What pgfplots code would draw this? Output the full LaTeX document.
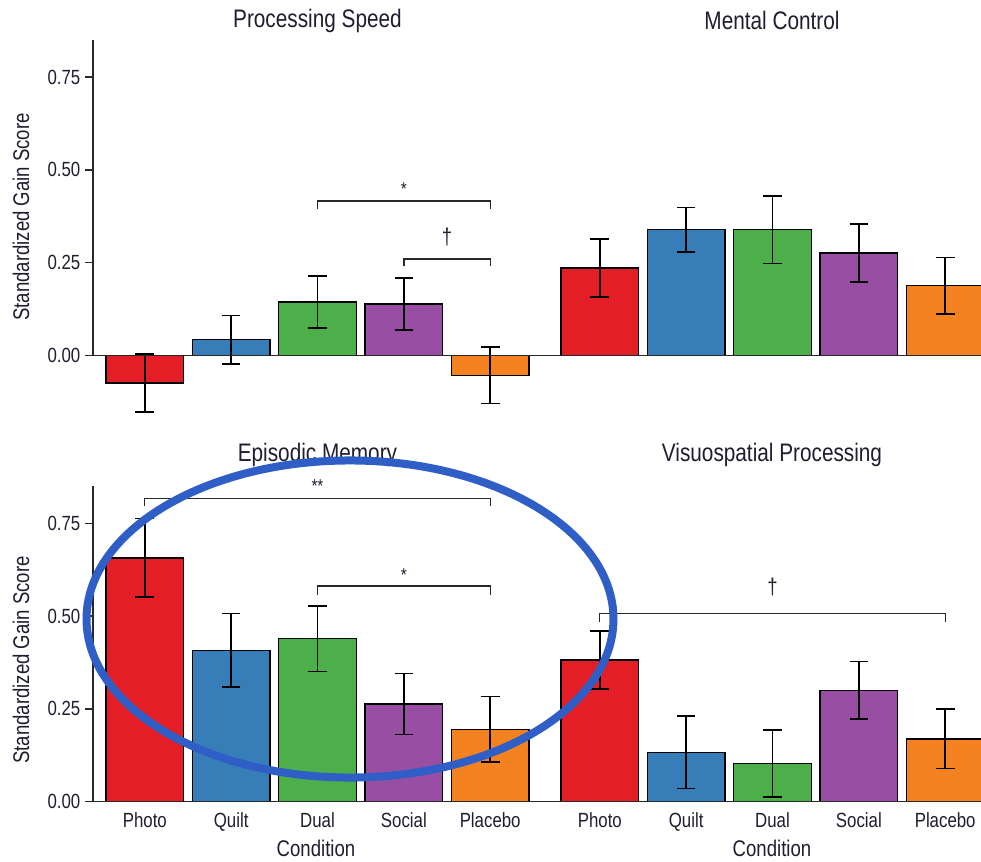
\documentclass[border=0pt]{standalone}
\usepackage{pgfplots}
\pgfplotsset{compat=1.18}
\usepackage{fontspec}
\setmainfont{Liberation Sans}[FakeStretch=0.82]
\definecolor{cred}{RGB}{228,30,38}
\definecolor{cblue}{RGB}{55,126,184}
\definecolor{cgreen}{RGB}{77,175,74}
\definecolor{cpurple}{RGB}{152,78,163}
\definecolor{corange}{RGB}{245,130,32}
\definecolor{txt}{RGB}{30,30,48}
\definecolor{axc}{RGB}{40,40,40}
\definecolor{ell}{RGB}{46,94,198}
\newcommand{\tickfont}{\fontsize{15.4}{18}\selectfont}
\newcommand{\titlefont}{\fontsize{19}{22}\selectfont}
\newcommand{\labfont}{\fontsize{17}{20}\selectfont}
\tikzset{
  axl/.style={draw=axc, line width=1.1pt},
  brk/.style={draw=axc, line width=1pt},
}
\pgfplotsset{
  panel/.style={
    scale only axis, width=336.75pt, xmin=-0.6, xmax=4.6, ymax=0.85,
    axis lines*=left, axis line style={draw=none},
    clip=false, xtick={0,1,2,3,4}, xtick style={draw=none},
    ytick style={axc, line width=1.1pt}, tick align=outside, major tick length=6pt,
    yticklabel style={font=\tickfont, text=txt},
    xticklabel style={font=\tickfont, text=txt, yshift=1.5pt},
    /pgf/number format/assume math mode=true,
    anchor=south west,
  },
  toppanel/.style={ymin=-0.17, height=283.8pt, xticklabels={}},
  botpanel/.style={ymin=0, height=236.5pt, xticklabels={Photo,Quilt,Dual,Social,Placebo}},
  lefty/.style={ytick={0,0.25,0.5,0.75}, yticklabels={0.00,0.25,0.50,0.75}},
  righty/.style={ytick=\empty},
  br/.style={ybar, bar width=0.9, bar shift=0pt, draw=black, line width=1.1pt,
    error bars/y dir=both, error bars/y explicit,
    error bars/error bar style={black, line width=1.2pt},
    error bars/error mark options={black, line width=1.2pt, mark size=7pt, rotate=90}},
}
\begin{document}
\begin{tikzpicture}
\useasboundingbox (0,0) rectangle (735.75pt,645.75pt);
\clip (0,0) rectangle (735.75pt,645.75pt);

% ---------- Processing Speed ----------
\begin{axis}[panel, toppanel, lefty, at={(69.75pt,331.95pt)}]
\addplot[br, fill=cred]    coordinates {(0,-0.074) +- (0,0.078)};
\addplot[br, fill=cblue]   coordinates {(1,0.042)  +- (0,0.065)};
\addplot[br, fill=cgreen]  coordinates {(2,0.144)  +- (0,0.070)};
\addplot[br, fill=cpurple] coordinates {(3,0.139)  +- (0,0.070)};
\addplot[br, fill=corange] coordinates {(4,-0.054) +- (0,0.076)};
\draw[axl] (axis cs:-0.6,0) -- (axis cs:4.7,0);
\draw[axl] (axis cs:-0.6,0) -- (axis cs:-0.6,0.85);
\draw[brk] (axis cs:2,0.394) -- (axis cs:2,0.416) -- (axis cs:4,0.416) -- (axis cs:4,0.394);
\draw[brk] (axis cs:3,0.242) -- (axis cs:3,0.260) -- (axis cs:4,0.260) -- (axis cs:4,0.242);
\node[anchor=base, text=txt, font=\fontsize{14}{16}\selectfont] at (axis cs:3,0.431) {*};
\node[text=txt, font=\fontsize{17}{19}\selectfont] at (axis cs:3.5,0.318) {†};
\end{axis}

% ---------- Mental Control ----------
\begin{axis}[panel, toppanel, righty, at={(411pt,331.95pt)}]
\addplot[br, fill=cred]    coordinates {(0,0.235) +- (0,0.078)};
\addplot[br, fill=cblue]   coordinates {(1,0.339) +- (0,0.060)};
\addplot[br, fill=cgreen]  coordinates {(2,0.339) +- (0,0.091)};
\addplot[br, fill=cpurple] coordinates {(3,0.276) +- (0,0.078)};
\addplot[br, fill=corange] coordinates {(4,0.188) +- (0,0.076)};
\draw[axl] (axis cs:-0.6,0) -- (axis cs:4.6,0);
\end{axis}

% ---------- Episodic Memory ----------
\begin{axis}[panel, botpanel, lefty, at={(69.75pt,44.55pt)}]
\addplot[br, fill=cred]    coordinates {(0,0.657) +- (0,0.106)};
\addplot[br, fill=cblue]   coordinates {(1,0.408) +- (0,0.099)};
\addplot[br, fill=cgreen]  coordinates {(2,0.439) +- (0,0.088)};
\addplot[br, fill=cpurple] coordinates {(3,0.263) +- (0,0.082)};
\addplot[br, fill=corange] coordinates {(4,0.195) +- (0,0.088)};
\draw[axl] (axis cs:-0.6,0) -- (axis cs:4.7,0);
\draw[axl] (axis cs:-0.6,0) -- (axis cs:-0.6,0.85);
\draw[brk] (axis cs:0,0.797) -- (axis cs:0,0.817) -- (axis cs:4,0.817) -- (axis cs:4,0.797);
\draw[brk] (axis cs:2,0.558) -- (axis cs:2,0.581) -- (axis cs:4,0.581) -- (axis cs:4,0.558);
\node[anchor=base, text=txt, font=\fontsize{14}{16}\selectfont] at (axis cs:2,0.832) {**};
\node[anchor=base, text=txt, font=\fontsize{14}{16}\selectfont] at (axis cs:3,0.594) {*};
\end{axis}

% ---------- Visuospatial Processing ----------
\begin{axis}[panel, botpanel, righty, at={(411pt,44.55pt)}]
\addplot[br, fill=cred]    coordinates {(0,0.382) +- (0,0.078)};
\addplot[br, fill=cblue]   coordinates {(1,0.133) +- (0,0.098)};
\addplot[br, fill=cgreen]  coordinates {(2,0.103) +- (0,0.090)};
\addplot[br, fill=cpurple] coordinates {(3,0.300) +- (0,0.078)};
\addplot[br, fill=corange] coordinates {(4,0.169) +- (0,0.080)};
\draw[axl] (axis cs:-0.6,0) -- (axis cs:4.6,0);
\draw[brk] (axis cs:0,0.485) -- (axis cs:0,0.507) -- (axis cs:4,0.507) -- (axis cs:4,0.485);
\node[text=txt, font=\fontsize{17}{19}\selectfont] at (axis cs:2,0.579) {†};
\end{axis}

% ---------- titles and labels ----------
\node[text=txt, font=\titlefont] at (238.1pt,630.4pt) {Processing Speed};
\node[text=txt, font=\titlefont] at (579pt,630.4pt) {Mental Control};
\node[text=txt, font=\titlefont] at (238.1pt,304.5pt) {Episodic Memory};
\node[text=txt, font=\titlefont] at (579pt,304.5pt) {Visuospatial Processing};
\node[text=txt, font=\labfont, rotate=90] at (15.75pt,483pt) {Standardized Gain Score};
\node[text=txt, font=\labfont, rotate=90] at (15.75pt,150.75pt) {Standardized Gain Score};
\node[text=txt, font=\labfont] at (237pt,9.75pt) {Condition};
\node[text=txt, font=\labfont] at (579pt,9.75pt) {Condition};

% ---------- highlight ellipse ----------
\draw[ell, line width=6pt] (262.5pt,181.5pt) ellipse [x radius=197.6pt, y radius=118.9pt];
\end{tikzpicture}
\end{document}
